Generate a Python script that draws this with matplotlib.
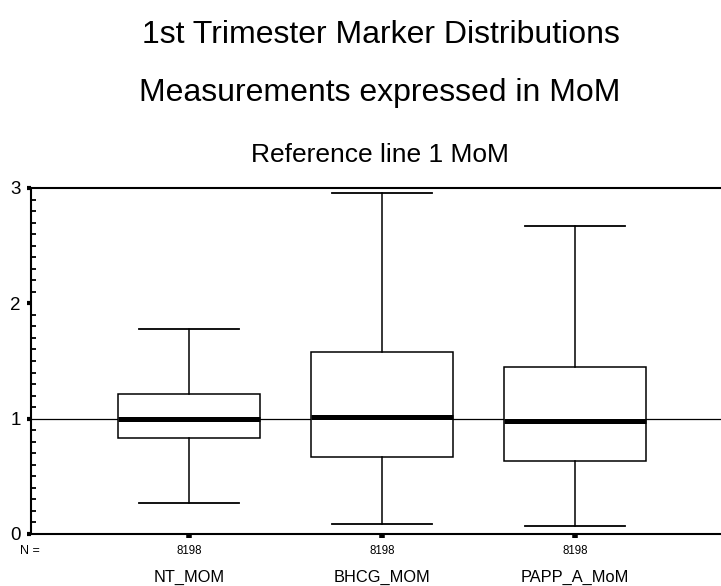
import numpy as np
import matplotlib
matplotlib.use('Agg')
import matplotlib.pyplot as plt
from matplotlib.ticker import MultipleLocator, FixedLocator, NullFormatter
from matplotlib.transforms import blended_transform_factory

plt.rcParams['font.family'] = ['Liberation Sans', 'DejaVu Sans']

# datos (MoM)
variables = ['NT_MOM', 'BHCG_MOM', 'PAPP_A_MoM']
n_casos = [8198, 8198, 8198]
bigote_inf = [0.27, 0.085, 0.07]
q1 = [0.835, 0.665, 0.636]
medianas = [1.0, 1.017, 0.982]
q3 = [1.214, 1.581, 1.451]
bigote_sup = [1.78, 2.955, 2.67]
ticks_y = [0, 1, 2, 3]
referencia = 1

W, H = 721, 586
fig = plt.figure(figsize=(W / 100, H / 100), dpi=100)
ax = fig.add_axes([31 / W, 52 / H, 690 / W, 346 / H])

stats = []
for i in range(len(variables)):
    stats.append(dict(label=variables[i], whislo=bigote_inf[i], q1=q1[i], med=medianas[i],
                      q3=q3[i], whishi=bigote_sup[i], fliers=[]))

posiciones = np.arange(1, len(variables) + 1)

ax.axhline(y=referencia, color='black', linewidth=0.9, zorder=1)

ax.bxp(stats, positions=posiciones, widths=0.74, capwidths=0.52, showfliers=False,
       patch_artist=True,
       boxprops=dict(facecolor='white', edgecolor='black', linewidth=1.1),
       medianprops=dict(color='black', linewidth=3.6, solid_capstyle='butt'),
       whiskerprops=dict(color='black', linewidth=1.1),
       capprops=dict(color='black', linewidth=1.3),
       zorder=2)

ax.set_xlim(1 - 158 / 193, 1 - 158 / 193 + 690 / 193)
ax.set_ylim(0, 3)

ax.yaxis.set_major_locator(FixedLocator(ticks_y))
ax.yaxis.set_minor_locator(MultipleLocator(0.1))
ax.tick_params(axis='y', which='major', direction='out', length=3, width=3,
               labelsize=13.5, pad=4.5)
ax.tick_params(axis='y', which='minor', direction='in', length=3.5, width=1.3)

ax.set_xticks(posiciones)
ax.xaxis.set_major_formatter(NullFormatter())
ax.tick_params(axis='x', which='major', direction='out', length=3, width=4)

for lado in ['left', 'bottom', 'top']:
    ax.spines[lado].set_linewidth(1.5)
ax.spines['right'].set_visible(False)

# etiquetas de N y nombres de variables
trans = blended_transform_factory(ax.transData, fig.transFigure)
for i in range(len(variables)):
    ax.text(posiciones[i], 1 - 551 / H, str(n_casos[i]), transform=trans,
            ha='center', va='center', fontsize=8.3)
    ax.text(posiciones[i], 1 - 577 / H, variables[i], transform=trans,
            ha='center', va='center', fontsize=11.8)
fig.text(20 / W, 1 - 551 / H, 'N =', ha='left', va='center', fontsize=9)

fig.text(381 / W, 1 - 35 / H, '1st Trimester Marker Distributions',
         ha='center', va='center', fontsize=23)
fig.text(380 / W, 1 - 93 / H, 'Measurements expressed in MoM',
         ha='center', va='center', fontsize=23)
fig.text(380 / W, 1 - 155 / H, 'Reference line 1 MoM',
         ha='center', va='center', fontsize=19)

fig.savefig('out.png', dpi=100)
